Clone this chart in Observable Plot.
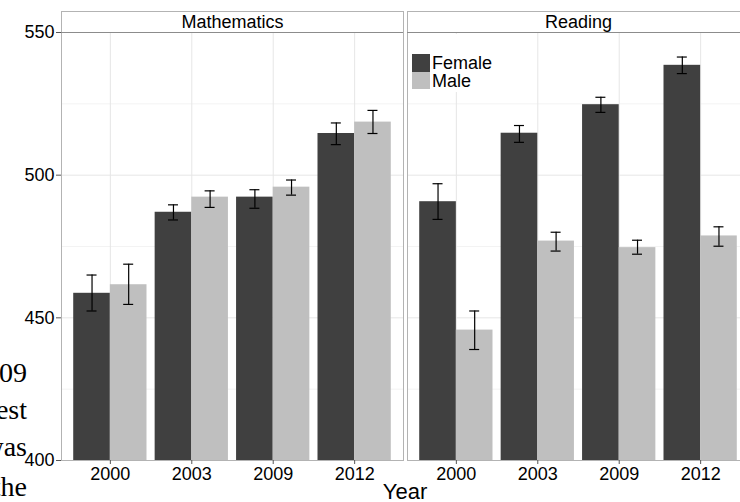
<!DOCTYPE html>
<html>
<head>
<meta charset="utf-8">
<script src="https://cdn.jsdelivr.net/npm/d3@7"></script>
<script src="https://cdn.jsdelivr.net/npm/@observablehq/plot@0.6"></script>
<style>
  html, body { margin: 0; padding: 0; background: #fff; }
  #wrap { position: relative; width: 740px; height: 502px; overflow: hidden; font-family: "Liberation Sans", Arial, sans-serif; }
  #chart { position: absolute; left: 0; top: 0; width: 750px; }
  #chart svg { max-width: none !important; display: block; }
  .side { position: absolute; left: -119px; width: 146px; text-align: right; font-family: "Liberation Serif", "Times New Roman", serif; font-size: 28px; line-height: 28px; color: #000; white-space: nowrap; }
  #legend { position: absolute; left: 409px; top: 34px; width: 92px; height: 58px; background: #fff; }
  .key { position: absolute; left: 3px; width: 18px; height: 17.5px; }
  .lab { position: absolute; left: 23px; font-size: 18px; line-height: 18px; color: #000; }
  #xtitle { position: absolute; left: 0; width: 810px; text-align: center; top: 481px; font-size: 22px; line-height: 22px; color: #000; }
</style>
</head>
<body>
<div id="wrap">
  <div id="chart"></div>
  <div class="side" style="top:359px">2009</div>
  <div class="side" style="top:396px">test</div>
  <div class="side" style="top:433px">was</div>
  <div class="side" style="top:473px">the</div>
  <div id="legend">
    <div class="key" style="top:20px;background:#404040"></div>
    <div class="key" style="top:37.5px;background:#bfbfbf"></div>
    <div class="lab" style="top:20px">Female</div>
    <div class="lab" style="top:38px">Male</div>
  </div>
  <div id="xtitle">Year</div>
</div>
<script>
const subjects = ["Mathematics", "Reading"];
const years = ["2000", "2003", "2009", "2012"];
const sexes = ["Female", "Male"];

const mathFemale   = [458.6, 487.0, 492.3, 514.6];
const mathFemaleLo = [452.4, 484.3, 488.4, 510.7];
const mathFemaleHi = [465.0, 489.6, 494.9, 518.3];
const mathMale     = [461.6, 492.3, 495.8, 518.6];
const mathMaleLo   = [454.7, 488.7, 493.0, 514.6];
const mathMaleHi   = [468.8, 494.5, 498.3, 522.7];

const readFemale   = [490.7, 514.7, 524.7, 538.5];
const readFemaleLo = [484.5, 511.5, 522.0, 535.6];
const readFemaleHi = [497.0, 517.4, 527.3, 541.4];
const readMale     = [445.7, 476.9, 474.6, 478.7];
const readMaleLo   = [438.9, 473.4, 472.3, 475.1];
const readMaleHi   = [452.4, 480.0, 477.2, 481.9];

const yTicks = [400, 450, 500, 550];
const minorTicks = [425, 475, 525];

const series = [
  {subject: subjects[0], sex: sexes[0], v: mathFemale, lo: mathFemaleLo, hi: mathFemaleHi},
  {subject: subjects[0], sex: sexes[1], v: mathMale, lo: mathMaleLo, hi: mathMaleHi},
  {subject: subjects[1], sex: sexes[0], v: readFemale, lo: readFemaleLo, hi: readFemaleHi},
  {subject: subjects[1], sex: sexes[1], v: readMale, lo: readMaleLo, hi: readMaleHi}
];
const rows = series.flatMap(s => years.map((y, i) => ({
  subject: s.subject, year: y, sex: s.sex, value: s.v[i], lo: s.lo[i], hi: s.hi[i]
})));
const fem = rows.filter(d => d.sex === "Female");
const mal = rows.filter(d => d.sex === "Male");

// layout
const W = 750, H = 502, mL = 61, mR = 1, mT = 32, mB = 42;
const gap = 4;
const panelStep = (W - mL - mR + gap) / 2;
const panelW = panelStep - gap;
const xStep = panelW / 4.2;
const bw = xStep * 0.9;
const cap = 5;

const chart = Plot.plot({
  width: W, height: H,
  marginLeft: mL, marginRight: mR, marginTop: mT, marginBottom: mB,
  style: {fontFamily: "Liberation Sans, Arial, sans-serif", fontSize: "18px", color: "#000", background: "transparent", maxWidth: "none"},
  fx: {domain: subjects, paddingInner: gap / panelStep, paddingOuter: 0, round: false, axis: null, label: null},
  x: {domain: years, paddingInner: 0.1, paddingOuter: 0.15, round: false, label: null},
  y: {domain: [400, 550], label: null},
  marks: [
    Plot.gridY(minorTicks, {stroke: "#f3f3f3", strokeOpacity: 1}),
    Plot.gridY([450, 500], {stroke: "#e6e6e6", strokeOpacity: 1}),
    Plot.gridX(years, {stroke: "#e6e6e6", strokeOpacity: 1}),
    Plot.barY(fem, {fx: "subject", x: "year", y1: 400, y2: "value", fill: "#404040", insetRight: bw / 2}),
    Plot.barY(mal, {fx: "subject", x: "year", y1: 400, y2: "value", fill: "#bfbfbf", insetLeft: bw / 2}),
    Plot.ruleX(fem, {fx: "subject", x: "year", y1: "lo", y2: "hi", dx: -bw / 4, stroke: "#000", strokeWidth: 1.2}),
    Plot.ruleX(mal, {fx: "subject", x: "year", y1: "lo", y2: "hi", dx: bw / 4, stroke: "#000", strokeWidth: 1.2}),
    Plot.tickY(fem, {fx: "subject", x: "year", y: "lo", insetLeft: bw / 4 - cap, insetRight: 3 * bw / 4 - cap, stroke: "#000", strokeWidth: 1.2}),
    Plot.tickY(fem, {fx: "subject", x: "year", y: "hi", insetLeft: bw / 4 - cap, insetRight: 3 * bw / 4 - cap, stroke: "#000", strokeWidth: 1.2}),
    Plot.tickY(mal, {fx: "subject", x: "year", y: "lo", insetLeft: 3 * bw / 4 - cap, insetRight: bw / 4 - cap, stroke: "#000", strokeWidth: 1.2}),
    Plot.tickY(mal, {fx: "subject", x: "year", y: "hi", insetLeft: 3 * bw / 4 - cap, insetRight: bw / 4 - cap, stroke: "#000", strokeWidth: 1.2}),
    Plot.frame({stroke: "#b3b3b3", insetTop: -21}),
    Plot.ruleY([550], {stroke: "#8c8c8c"}),
    Plot.text(subjects, {fx: d => d, text: d => d, frameAnchor: "top", lineAnchor: "middle", dy: -10.5, fontSize: 18, fill: "#000"}),
    Plot.axisY(yTicks, {tickSize: 5, tickPadding: 2, fontSize: 18, stroke: "#555", fill: "#000", label: null}),
    Plot.axisX({tickSize: 4, tickPadding: 3, fontSize: 18, stroke: "#555", fill: "#000", label: null})
  ]
});
document.getElementById("chart").appendChild(chart);
</script>
</body>
</html>
